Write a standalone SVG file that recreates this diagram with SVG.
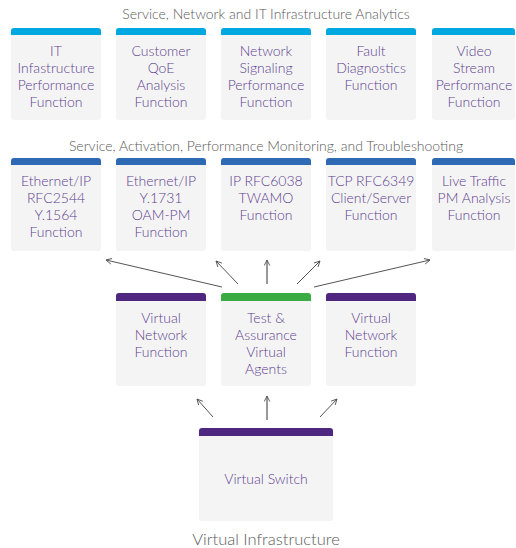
<svg xmlns="http://www.w3.org/2000/svg" width="516" height="548" viewBox="0 0 516 548">
<defs>
<style>
.box{fill:#f4f4f5}
.t{font-family:Lato,"Liberation Sans",sans-serif;font-size:14px;font-weight:300;fill:#5e3f8f;text-anchor:middle}
.h{font-family:Lato,"Liberation Sans",sans-serif;font-size:14px;font-weight:300;fill:#5a5a5a;text-anchor:middle}
.lb{fill:#00a8e1}
.db{fill:#2e6ab3}
.pu{fill:#4f2680}
.gr{fill:#3aaa43}
.c{stroke:#555;stroke-width:1;fill:none;marker-end:url(#ah)}
.cv{stroke:#777;stroke-width:1.5;fill:none;marker-end:url(#ah)}
</style>
<marker id="ah" viewBox="0 0 10 10" refX="9" refY="5" markerWidth="7" markerHeight="7" markerUnits="userSpaceOnUse" orient="auto">
<path d="M1,1 L9,5 L1,9" fill="none" stroke="#555" stroke-width="1.3"/>
</marker>
</defs>
<rect width="516" height="548" fill="#fff"/>
<text class="h" x="266" y="19">Service, Network and IT Infrastructure Analytics</text>
<text class="h" x="266" y="151">Service, Activation, Performance Monitoring, and Troubleshooting</text>
<text x="266" y="545" style="font-family:Lato,'Liberation Sans',sans-serif;font-size:16.5px;font-weight:300;fill:#5a5a5a;text-anchor:middle">Virtual Infrastructure</text>

<g id="n1"><rect class="box" x="11" y="28" width="90" height="92" rx="3"/><path class="lb" d="M11,35V31Q11,28 14,28H98Q101,28 101,31V35Z"/>
<text class="t" x="56" y="56">IT</text><text class="t" x="56" y="73">Infastructure</text><text class="t" x="56" y="90">Performance</text><text class="t" x="56" y="107">Function</text></g>
<g id="n2"><rect class="box" x="116" y="28" width="90" height="92" rx="3"/><path class="lb" d="M116,35V31Q116,28 119,28H203Q206,28 206,31V35Z"/>
<text class="t" x="161" y="56">Customer</text><text class="t" x="161" y="73">QoE</text><text class="t" x="161" y="90">Analysis</text><text class="t" x="161" y="107">Function</text></g>
<g id="n3"><rect class="box" x="221" y="28" width="90" height="92" rx="3"/><path class="lb" d="M221,35V31Q221,28 224,28H308Q311,28 311,31V35Z"/>
<text class="t" x="266" y="56">Network</text><text class="t" x="266" y="73">Signaling</text><text class="t" x="266" y="90">Performance</text><text class="t" x="266" y="107">Function</text></g>
<g id="n4"><rect class="box" x="326" y="28" width="90" height="92" rx="3"/><path class="lb" d="M326,35V31Q326,28 329,28H413Q416,28 416,31V35Z"/>
<text class="t" x="371" y="56">Fault</text><text class="t" x="371" y="73">Diagnostics</text><text class="t" x="371" y="90">Function</text></g>
<g id="n5"><rect class="box" x="432" y="28" width="83" height="92" rx="3"/><path class="lb" d="M432,35V31Q432,28 435,28H512Q515,28 515,31V35Z"/>
<text class="t" x="474" y="56">Video</text><text class="t" x="474" y="73">Stream</text><text class="t" x="474" y="90">Performance</text><text class="t" x="474" y="107">Function</text></g>

<g id="m1"><rect class="box" x="11" y="158" width="90" height="93" rx="3"/><path class="db" d="M11,165V161Q11,158 14,158H98Q101,158 101,161V165Z"/>
<text class="t" x="56" y="186">Ethernet/IP</text><text class="t" x="56" y="203">RFC2544</text><text class="t" x="56" y="220">Y.1564</text><text class="t" x="56" y="237">Function</text></g>
<g id="m2"><rect class="box" x="116" y="158" width="90" height="93" rx="3"/><path class="db" d="M116,165V161Q116,158 119,158H203Q206,158 206,161V165Z"/>
<text class="t" x="161" y="186">Ethernet/IP</text><text class="t" x="161" y="203">Y.1731</text><text class="t" x="161" y="220">OAM-PM</text><text class="t" x="161" y="237">Function</text></g>
<g id="m3"><rect class="box" x="221" y="158" width="90" height="93" rx="3"/><path class="db" d="M221,165V161Q221,158 224,158H308Q311,158 311,161V165Z"/>
<text class="t" x="266" y="186">IP RFC6038</text><text class="t" x="266" y="203">TWAMO</text><text class="t" x="266" y="220">Function</text></g>
<g id="m4"><rect class="box" x="326" y="158" width="90" height="93" rx="3"/><path class="db" d="M326,165V161Q326,158 329,158H413Q416,158 416,161V165Z"/>
<text class="t" x="371" y="186">TCP RFC6349</text><text class="t" x="371" y="203">Client/Server</text><text class="t" x="371" y="220">Function</text></g>
<g id="m5"><rect class="box" x="432" y="158" width="83" height="93" rx="3"/><path class="db" d="M432,165V161Q432,158 435,158H512Q515,158 515,161V165Z"/>
<text class="t" x="474" y="186">Live Traffic</text><text class="t" x="474" y="203">PM Analysis</text><text class="t" x="474" y="220">Function</text></g>

<g id="v1"><rect class="box" x="116" y="293" width="90" height="93" rx="3"/><path class="pu" d="M116,301V296Q116,293 119,293H203Q206,293 206,296V301Z"/>
<text class="t" x="161" y="323">Virtual</text><text class="t" x="161" y="340">Network</text><text class="t" x="161" y="357">Function</text></g>
<g id="ta"><rect class="box" x="221" y="293" width="90" height="93" rx="3"/><path class="gr" d="M221,301V296Q221,293 224,293H308Q311,293 311,296V301Z"/>
<text class="t" x="266" y="323">Test &amp;</text><text class="t" x="266" y="340">Assurance</text><text class="t" x="266" y="357">Virtual</text><text class="t" x="266" y="374">Agents</text></g>
<g id="v2"><rect class="box" x="326" y="293" width="90" height="93" rx="3"/><path class="pu" d="M326,301V296Q326,293 329,293H413Q416,293 416,296V301Z"/>
<text class="t" x="371" y="323">Virtual</text><text class="t" x="371" y="340">Network</text><text class="t" x="371" y="357">Function</text></g>
<g id="vs"><rect class="box" x="199" y="428" width="134" height="93" rx="3"/><path class="pu" d="M199,436V431Q199,428 202,428H330Q333,428 333,431V436Z"/>
<text class="t" x="266" y="484">Virtual Switch</text></g>

<g id="connectors">
<line class="c" x1="222" y1="287" x2="106" y2="260"/>
<line class="c" x1="238" y1="284" x2="216" y2="261"/>
<line class="cv" x1="267" y1="284" x2="267" y2="260"/>
<line class="c" x1="297" y1="284" x2="320" y2="261"/>
<line class="c" x1="314" y1="287" x2="430" y2="260"/>
<line class="c" x1="213" y1="417" x2="197" y2="399"/>
<line class="cv" x1="267" y1="420" x2="267" y2="396"/>
<line class="c" x1="320" y1="417" x2="337" y2="399"/>
</g>
</svg>
